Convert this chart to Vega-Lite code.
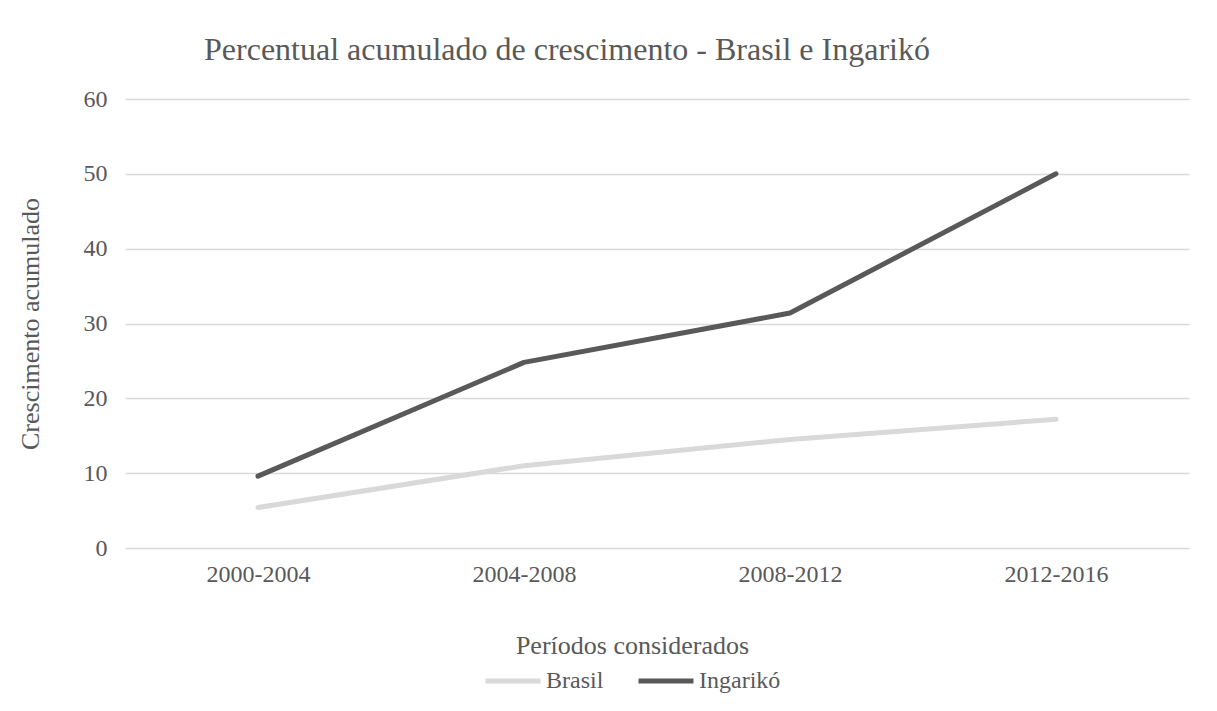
{
  "$schema": "https://vega.github.io/schema/vega-lite/v6.json",
  "autosize": {"type": "none"},
  "width": 1064,
  "height": 449,
  "padding": {"left": 125, "top": 99, "right": 28, "bottom": 163},
  "background": "white",
  "config": {
    "view": {"stroke": null},
    "font": "Liberation Serif",
    "axis": {"labelFont": "Liberation Serif", "titleFont": "Liberation Serif", "labelColor": "#595959", "titleColor": "#595959", "titleFontWeight": "normal"},
    "legend": {"labelFont": "Liberation Serif", "labelColor": "#595959"}
  },
  "title": {
    "text": "Percentual acumulado de crescimento - Brasil e Ingarikó",
    "font": "Liberation Serif",
    "fontSize": 32,
    "fontWeight": "normal",
    "color": "#595959",
    "anchor": "middle",
    "dx": -90,
    "offset": 20
  },
  "data": {
    "values": [
      {"periodo": "2000-2004", "serie": "Brasil", "valor": 5.4},
      {"periodo": "2004-2008", "serie": "Brasil", "valor": 11.0},
      {"periodo": "2008-2012", "serie": "Brasil", "valor": 14.5},
      {"periodo": "2012-2016", "serie": "Brasil", "valor": 17.2},
      {"periodo": "2000-2004", "serie": "Ingarikó", "valor": 9.6},
      {"periodo": "2004-2008", "serie": "Ingarikó", "valor": 24.8},
      {"periodo": "2008-2012", "serie": "Ingarikó", "valor": 31.4},
      {"periodo": "2012-2016", "serie": "Ingarikó", "valor": 50.0}
    ]
  },
  "mark": {"type": "line", "strokeWidth": 5, "strokeCap": "round", "strokeJoin": "round"},
  "encoding": {
    "x": {
      "field": "periodo",
      "type": "ordinal",
      "sort": null,
      "scale": {"type": "point", "padding": 0.5},
      "axis": {
        "title": "Períodos considerados",
        "titleFontSize": 26,
        "titleX": 507,
        "titleY": 105,
        "titleBaseline": "alphabetic",
        "labelFontSize": 24,
        "labelAngle": 0,
        "labelPadding": 14,
        "ticks": false,
        "domain": false,
        "grid": false
      }
    },
    "y": {
      "field": "valor",
      "type": "quantitative",
      "scale": {"domain": [0, 60]},
      "axis": {
        "title": "Crescimento acumulado",
        "titleFontSize": 26,
        "labelFontSize": 24,
        "values": [0, 10, 20, 30, 40, 50, 60],
        "labelPadding": 18,
        "titlePadding": 40,
        "ticks": false,
        "domain": false,
        "grid": true,
        "gridColor": "#d9d9d9",
        "gridWidth": 1.5
      }
    },
    "color": {
      "field": "serie",
      "type": "nominal",
      "scale": {"domain": ["Brasil", "Ingarikó"], "range": ["#d9d9d9", "#595959"]},
      "legend": {
        "title": null,
        "orient": "none",
        "direction": "horizontal",
        "legendX": 358,
        "legendY": 552,
        "symbolType": "stroke",
        "symbolSize": 3025,
        "symbolStrokeWidth": 5,
        "labelFontSize": 24,
        "labelOffset": 3,
        "columnPadding": 24
      }
    }
  }
}
